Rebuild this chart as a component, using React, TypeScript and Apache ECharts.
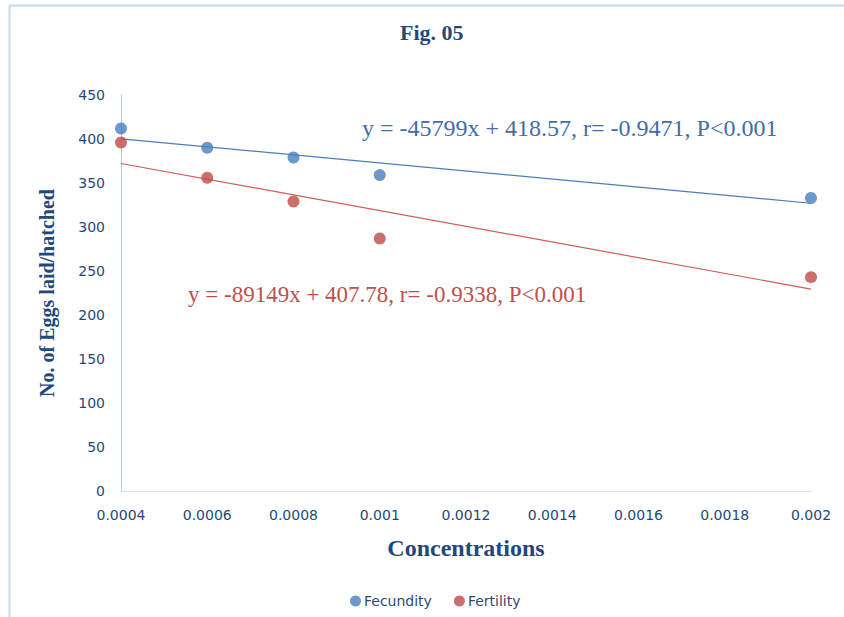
import React, { useEffect, useRef } from "react";
import * as echarts from "echarts";

const concentrations = [0.0004, 0.0006, 0.0008, 0.001, 0.002];
const fecundity = [412, 390, 379, 359, 333];
const fertility = [396, 356, 329, 287, 243];
const seriesNames = ["Fecundity", "Fertility"];
const trendSlopes = [-45799, -89149];
const trendIntercepts = [418.57, 407.78];
const equationTexts = [
  "y = -45799x + 418.57, r= -0.9471, P<0.001",
  "y = -89149x + 407.78, r= -0.9338, P<0.001",
];
const colors = ["#4A7EBB", "#BE4B48"];
const textColors = ["#3F6EA8", "#C0504D"];

export default function App() {
  const ref = useRef<HTMLDivElement>(null);
  useEffect(() => {
    if (!ref.current) return;
    const chart = echarts.init(ref.current, null, { renderer: "svg" });
    const xMin = concentrations[0];
    const xMax = concentrations[concentrations.length - 1];
    const trend = (i: number) => [
      [xMin, trendSlopes[i] * xMin + trendIntercepts[i]],
      [xMax, trendSlopes[i] * xMax + trendIntercepts[i]],
    ];
    const axisColor = "#1F497D";
    chart.setOption({
      animation: false,
      backgroundColor: "#ffffff",
      title: {
        text: "Fig. 05",
        left: 395,
        top: 16,
        textStyle: {
          fontFamily: "Liberation Serif",
          fontWeight: "bold",
          fontSize: 22,
          color: axisColor,
        },
      },
      legend: {
        data: seriesNames,
        left: 345,
        top: 589,
        icon: "circle",
        itemWidth: 11,
        itemHeight: 11,
        itemGap: 22,
        textStyle: { fontFamily: "DejaVu Sans", fontSize: 14, color: "#2E4A70", padding: [0, 0, 0, -2] },
      },
      grid: { left: 121, right: 33, top: 95, bottom: 126 },
      xAxis: {
        type: "value",
        min: 0.0004,
        max: 0.002,
        interval: 0.0002,
        name: "Concentrations",
        nameLocation: "middle",
        nameGap: 45,
        nameTextStyle: {
          fontFamily: "Liberation Serif",
          fontWeight: "bold",
          fontSize: 24,
          color: axisColor,
        },
        axisLine: { show: true, lineStyle: { color: "#D6E2F0", width: 1 } },
        axisTick: { show: false },
        splitLine: { show: false },
        axisLabel: {
          margin: 17,
          fontFamily: "DejaVu Sans",
          fontSize: 14,
          color: axisColor,
          formatter: (v: number) => String(parseFloat(v.toFixed(4))),
        },
      },
      yAxis: {
        type: "value",
        min: 0,
        max: 450,
        interval: 50,
        name: "No. of Eggs laid/hatched",
        nameLocation: "middle",
        nameGap: 64,
        nameRotate: 90,
        nameTextStyle: {
          fontFamily: "Liberation Serif",
          fontWeight: "bold",
          fontSize: 20,
          color: axisColor,
        },
        axisLine: { show: true, lineStyle: { color: "#B8CCE4", width: 1 } },
        axisTick: { show: false },
        splitLine: { show: false },
        axisLabel: {
          margin: 16,
          fontFamily: "DejaVu Sans",
          fontSize: 14,
          color: axisColor,
        },
      },
      graphic: [
        {
          type: "rect",
          left: 7,
          top: 3,
          shape: { width: 860, height: 640 },
          style: { fill: "none", stroke: "#C9D9EE", lineWidth: 2 },
          silent: true,
          z: -1,
        },
        {
          type: "text",
          left: 362,
          top: 116,
          style: {
            text: equationTexts[0],
            fill: textColors[0],
            fontFamily: "Liberation Serif",
            fontSize: 24,
          },
        },
        {
          type: "text",
          left: 188,
          top: 283,
          style: {
            text: equationTexts[1],
            fill: textColors[1],
            fontFamily: "Liberation Serif",
            fontSize: 23,
          },
        },
      ],
      series: [
        {
          name: seriesNames[0],
          type: "scatter",
          symbolSize: 12,
          itemStyle: { color: colors[0] },
          data: concentrations.map((c, i) => [c, fecundity[i]]),
          z: 3,
        },
        {
          name: seriesNames[1],
          type: "scatter",
          symbolSize: 12,
          itemStyle: { color: colors[1] },
          data: concentrations.map((c, i) => [c, fertility[i]]),
          z: 3,
        },
        {
          name: "Fecundity trend",
          type: "line",
          data: trend(0),
          symbol: "none",
          lineStyle: { color: colors[0], width: 1.2 },
          z: 2,
        },
        {
          name: "Fertility trend",
          type: "line",
          data: trend(1),
          symbol: "none",
          lineStyle: { color: "#D05C59", width: 1.2 },
          z: 2,
        },
      ],
    });
    return () => chart.dispose();
  }, []);
  return (
    <div
      ref={ref}
      style={{ position: "fixed", left: 0, top: 0, width: 844, height: 617 }}
    />
  );
}
